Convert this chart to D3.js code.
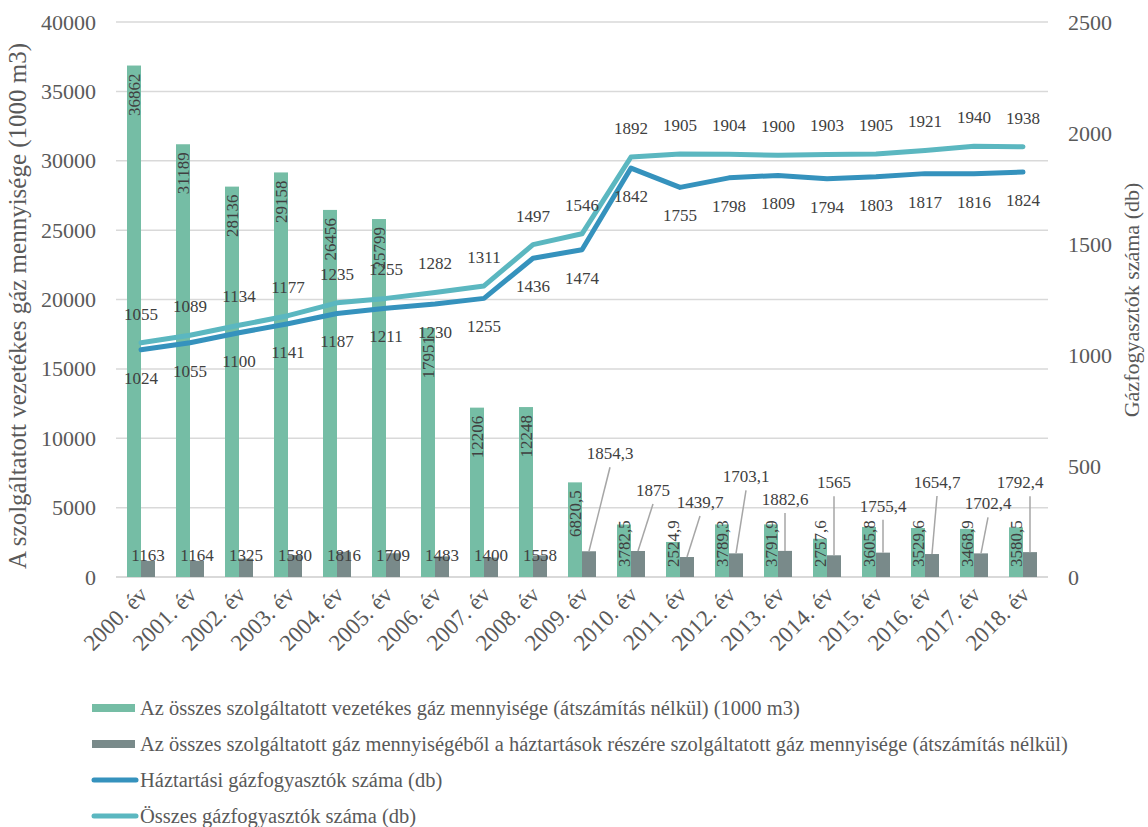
<!DOCTYPE html>
<html>
<head>
<meta charset="utf-8">
<script src="https://cdn.jsdelivr.net/npm/d3@7"></script>
<style>
  body { margin: 0; background: #fff; }
</style>
</head>
<body>
<div id="chart"></div>
<script>
var years = ['2000. év','2001. év','2002. év','2003. év','2004. év','2005. év','2006. év','2007. év','2008. év','2009. év',
  '2010. év','2011. év','2012. év','2013. év','2014. év','2015. év','2016. év','2017. év','2018. év'];

var osszesGaz = [36862, 31189, 28136, 29158, 26456, 25799, 17951, 12206, 12248, 6820.5,
  3782.5, 2524.9, 3789.3, 3791.9, 2757.6, 3605.8, 3529.6, 3468.9, 3580.5];
var haztartasiGaz = [1163, 1164, 1325, 1580, 1816, 1709, 1483, 1400, 1558, 1854.3,
  1875, 1439.7, 1703.1, 1882.6, 1565, 1755.4, 1654.7, 1702.4, 1792.4];
var haztartasiFogy = [1024, 1055, 1100, 1141, 1187, 1211, 1230, 1255, 1436, 1474,
  1842, 1755, 1798, 1809, 1794, 1803, 1817, 1816, 1824];
var osszesFogy = [1055, 1089, 1134, 1177, 1235, 1255, 1282, 1311, 1497, 1546,
  1892, 1905, 1904, 1900, 1903, 1905, 1921, 1940, 1938];

var leftTicks = [0, 5000, 10000, 15000, 20000, 25000, 30000, 35000, 40000];
var rightTicks = [0, 500, 1000, 1500, 2000, 2500];

var legendLabels = [
  'Az összes szolgáltatott vezetékes gáz mennyisége (átszámítás nélkül) (1000 m3)',
  'Az összes szolgáltatott gáz mennyiségéből a háztartások részére szolgáltatott gáz mennyisége (átszámítás nélkül)',
  'Háztartási gázfogyasztók száma (db)',
  'Összes gázfogyasztók száma (db)'
];

// label nudges for the gray bars from 2009 on (pixels from bar top)
var leaderOffsets = [[21, -98], [15, -61], [13, -55], [10, -77], [0, -52], [0, -73], [0, -47], [5, -72], [7, -50], [-10, -70]];

var W = 1148, H = 827;
var FONT = '"Liberation Serif"';
var colGreen = '#75bda5', colGray = '#798a8a', colDark = '#3592bd', colLight = '#5bb7c0';
var fmt = function(v) { return String(v).replace('.', ','); };

var svg = d3.select('#chart').append('svg')
  .attr('width', W)
  .attr('height', H);

var x = d3.scaleBand().domain(years).range([116.5, 1047.5]);
var yL = d3.scaleLinear().domain([0, 40000]).range([577, 22]);
var yR = d3.scaleLinear().domain([0, 2500]).range([577, 22]);
var bw = 14;
var cx = function(i) { return x(years[i]) + x.bandwidth() / 2; };

// grid
svg.append('g').selectAll('line').data(leftTicks).enter().append('line')
  .attr('x1', 116).attr('x2', 1048)
  .attr('y1', function(d) { return yL(d); })
  .attr('y2', function(d) { return yL(d); })
  .attr('stroke', '#d9d9d9')
  .attr('stroke-width', function(d) { return d === 0 ? 2 : 1.5; });

// left axis
var axL = svg.append('g').attr('transform', 'translate(96,0)')
  .call(d3.axisLeft(yL).tickValues(leftTicks).tickSize(0).tickPadding(0).tickFormat(d3.format('d')));
axL.select('.domain').remove();
axL.selectAll('text').attr('font-size', 22).attr('fill', '#595959');

// right axis
var axR = svg.append('g').attr('transform', 'translate(1068,0)')
  .call(d3.axisRight(yR).tickValues(rightTicks).tickSize(0).tickPadding(0).tickFormat(d3.format('d')));
axR.select('.domain').remove();
axR.selectAll('text').attr('font-size', 22).attr('fill', '#595959');

// x labels
svg.append('g').selectAll('text').data(years).enter().append('text')
  .attr('transform', function(d, i) { return 'translate(' + (cx(i) + 8) + ',596) rotate(-45)'; })
  .attr('text-anchor', 'end')
  .attr('font-size', 23)
  .attr('fill', '#595959')
  .text(function(d) { return d; });

// axis titles
svg.append('text')
  .attr('transform', 'translate(26,306) rotate(-90)')
  .attr('text-anchor', 'middle')
  .attr('font-size', 25)
  .attr('fill', '#595959')
  .text('A szolgáltatott vezetékes gáz mennyisége  (1000 m3)');
svg.append('text')
  .attr('transform', 'translate(1139,300) rotate(-90)')
  .attr('text-anchor', 'middle')
  .attr('font-size', 22)
  .attr('fill', '#595959')
  .text('Gázfogyasztók száma (db)');

// bars
svg.append('g').selectAll('rect').data(osszesGaz).enter().append('rect')
  .attr('x', function(d, i) { return cx(i) - bw; })
  .attr('y', function(d) { return yL(d); })
  .attr('width', bw)
  .attr('height', function(d) { return yL(0) - yL(d); })
  .attr('fill', colGreen);
svg.append('g').selectAll('rect').data(haztartasiGaz).enter().append('rect')
  .attr('x', function(d, i) { return cx(i); })
  .attr('y', function(d) { return yL(d); })
  .attr('width', bw)
  .attr('height', function(d) { return yL(0) - yL(d); })
  .attr('fill', colGray);

// green bar labels, vertical
svg.append('g').selectAll('text').data(osszesGaz).enter().append('text')
  .each(function(d, i) {
    var s = fmt(d);
    var len = s.length * 8.6;
    var top = yL(d) + 8;
    var t = d3.select(this);
    if (top + len > yL(0) - 10) {
      t.attr('transform', 'translate(' + (cx(i) - bw / 2) + ',' + (yL(0) - 10) + ') rotate(-90)')
        .attr('text-anchor', 'start');
    } else {
      t.attr('transform', 'translate(' + (cx(i) - bw / 2) + ',' + top + ') rotate(-90)')
        .attr('text-anchor', 'end');
    }
    t.attr('dy', '0.35em').text(s);
  })
  .attr('font-size', 17)
  .attr('fill', '#404040');

// gray bar labels
var gl = svg.append('g');
haztartasiGaz.forEach(function(d, i) {
  var gx = cx(i) + bw / 2;
  if (i < 9) {
    gl.append('text')
      .attr('x', gx).attr('y', yL(0) - 16)
      .attr('text-anchor', 'middle')
      .attr('font-size', 17).attr('fill', '#404040')
      .text(fmt(d));
  } else {
    var o = leaderOffsets[i - 9];
    var top = yL(d);
    gl.append('line')
      .attr('x1', gx).attr('y1', top)
      .attr('x2', gx + Math.max(o[0], 0)).attr('y2', top + o[1] + 14)
      .attr('stroke', '#a6a6a6').attr('stroke-width', 1.5);
    gl.append('text')
      .attr('x', gx + o[0]).attr('y', top + o[1])
      .attr('dy', '0.35em')
      .attr('text-anchor', 'middle')
      .attr('font-size', 17).attr('fill', '#404040')
      .text(fmt(d));
  }
});

// lines
var line = function(scale) {
  return d3.line()
    .x(function(d, i) { return cx(i); })
    .y(function(d) { return scale(d); });
};
svg.append('path').datum(osszesFogy)
  .attr('d', line(yR))
  .attr('fill', 'none').attr('stroke', colLight).attr('stroke-width', 5)
  .attr('stroke-linecap', 'round').attr('stroke-linejoin', 'round');
svg.append('path').datum(haztartasiFogy)
  .attr('d', line(yR))
  .attr('fill', 'none').attr('stroke', colDark).attr('stroke-width', 5)
  .attr('stroke-linecap', 'round').attr('stroke-linejoin', 'round');

svg.append('g').selectAll('text').data(osszesFogy).enter().append('text')
  .attr('x', function(d, i) { return cx(i); })
  .attr('y', function(d) { return yR(d) - 29; })
  .attr('dy', '0.35em')
  .attr('text-anchor', 'middle')
  .attr('font-size', 17).attr('fill', '#404040')
  .text(function(d) { return d; });
svg.append('g').selectAll('text').data(haztartasiFogy).enter().append('text')
  .attr('x', function(d, i) { return cx(i); })
  .attr('y', function(d) { return yR(d) + 28; })
  .attr('dy', '0.35em')
  .attr('text-anchor', 'middle')
  .attr('font-size', 17).attr('fill', '#404040')
  .text(function(d) { return d; });

// legend
var lg = svg.append('g').selectAll('g').data(legendLabels).enter().append('g')
  .attr('transform', function(d, i) { return 'translate(92,' + (708 + i * 36) + ')'; });
lg.each(function(d, i) {
  var g = d3.select(this);
  if (i < 2) {
    g.append('rect').attr('x', 0).attr('y', -4).attr('width', 43).attr('height', 8)
      .attr('fill', i === 0 ? colGreen : colGray);
  } else {
    g.append('line').attr('x1', 2).attr('x2', 44).attr('y1', 0).attr('y2', 0)
      .attr('stroke', i === 2 ? colDark : colLight).attr('stroke-width', 5)
      .attr('stroke-linecap', 'round');
  }
  g.append('text').attr('x', 48).attr('dy', '0.35em')
    .attr('font-size', 20.5).attr('fill', '#595959')
    .text(d);
});

svg.selectAll('text').style('font-family', FONT);
</script>
</body>
</html>
